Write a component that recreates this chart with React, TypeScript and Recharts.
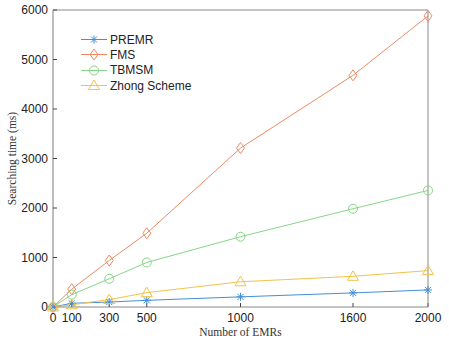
import React from 'react';
import { LineChart, Line, XAxis, YAxis, Legend } from 'recharts';

const emrs = [0, 100, 300, 500, 1000, 1600, 2000];
const premr = [0, 75, 100, 135, 205, 285, 345];
const fms = [0, 360, 940, 1490, 3210, 4680, 5880];
const tbmsm = [0, 250, 570, 900, 1420, 1985, 2355];
const zhong = [0, 45, 150, 290, 510, 620, 735];
const xTicks = [0, 100, 300, 500, 1000, 1600, 2000];
const yTicks = [0, 1000, 2000, 3000, 4000, 5000, 6000];

const seriesNames = ['PREMR', 'FMS', 'TBMSM', 'Zhong Scheme'];
const seriesKeys = ['premr', 'fms', 'tbmsm', 'zhong'];
const colors = ['#4590d6', '#ee8a63', '#86d687', '#f2c34c'];

const data = emrs.map((e, i) => ({
  emr: e,
  premr: premr[i],
  fms: fms[i],
  tbmsm: tbmsm[i],
  zhong: zhong[i],
}));

type MP = { cx?: number; cy?: number; stroke?: string };

const Star = ({ cx = 0, cy = 0, stroke }: MP) => (
  <g stroke={stroke} strokeWidth={1}>
    <line x1={cx - 4} y1={cy} x2={cx + 4} y2={cy} />
    <line x1={cx} y1={cy - 4} x2={cx} y2={cy + 4} />
    <line x1={cx - 3} y1={cy - 3} x2={cx + 3} y2={cy + 3} />
    <line x1={cx - 3} y1={cy + 3} x2={cx + 3} y2={cy - 3} />
  </g>
);
const Diamond = ({ cx = 0, cy = 0, stroke }: MP) => (
  <polygon
    points={`${cx},${cy - 5.5} ${cx + 4},${cy} ${cx},${cy + 5.5} ${cx - 4},${cy}`}
    fill="none"
    stroke={stroke}
    strokeWidth={1}
  />
);
const Circ = ({ cx = 0, cy = 0, stroke }: MP) => (
  <circle cx={cx} cy={cy} r={4.5} fill="none" stroke={stroke} strokeWidth={1} />
);
const Tri = ({ cx = 0, cy = 0, stroke }: MP) => (
  <polygon
    points={`${cx},${cy - 5.5} ${cx + 5.5},${cy + 4} ${cx - 5.5},${cy + 4}`}
    fill="none"
    stroke={stroke}
    strokeWidth={1}
  />
);
const markers = [Star, Diamond, Circ, Tri];

const renderDot = (idx: number) => (props: any) => {
  const M = markers[idx];
  return <M key={`d-${idx}-${props.index}`} cx={props.cx} cy={props.cy} stroke={colors[idx]} />;
};

const LegendContent = () => (
  <div style={{ fontFamily: '"Liberation Sans", Arial, sans-serif', fontSize: 12, color: '#222' }}>
    {seriesNames.map((n, i) => {
      const M = markers[i];
      return (
        <div key={n} style={{ display: 'flex', alignItems: 'center', height: 15.3 }}>
          <svg width={28} height={15} style={{ display: 'block' }}>
            <line x1={0} y1={7.5} x2={26} y2={7.5} stroke={colors[i]} strokeWidth={1} />
            <M cx={13} cy={7.5} stroke={colors[i]} />
          </svg>
          <span style={{ marginLeft: 1, whiteSpace: 'nowrap' }}>{n}</span>
        </div>
      );
    })}
  </div>
);

const tickStyle = { fontFamily: '"Liberation Sans", Arial, sans-serif', fontSize: 12, fill: '#222' };

export default function App() {
  return (
    <div style={{ position: 'absolute', left: 0, top: 0, background: '#fff' }}>
      <LineChart width={449} height={342} data={data} margin={{ top: 9, right: 20, bottom: 0, left: 8 }}>
        <XAxis
          dataKey="emr"
          type="number"
          domain={[0, 2000]}
          ticks={xTicks}
          interval={0}
          height={35}
          tickSize={-4}
          tickMargin={10}
          tick={tickStyle}
          stroke="#888"
          axisLine={{ stroke: '#888', strokeWidth: 1 }}
          tickLine={{ stroke: '#444' }}
          label={{
            content: ({ viewBox }: any) => (
              <text
                x={viewBox.x + viewBox.width / 2}
                y={viewBox.y + 29}
                textAnchor="middle"
                fontFamily='"Liberation Serif", "Times New Roman", serif'
                fontSize={11.5}
                fill="#333"
              >
                Number of EMRs
              </text>
            ),
          }}
        />
        <XAxis
          xAxisId="top"
          dataKey="emr"
          orientation="top"
          type="number"
          domain={[0, 2000]}
          ticks={xTicks}
          interval={0}
          height={1}
          tickSize={-4}
          tick={false}
          axisLine={{ stroke: '#888', strokeWidth: 1 }}
          tickLine={{ stroke: '#444' }}
        />
        <YAxis
          type="number"
          domain={[0, 6000]}
          ticks={yTicks}
          interval={0}
          width={45}
          tickSize={-4}
          tickMargin={9}
          tick={tickStyle}
          axisLine={{ stroke: '#bdbdbd', strokeWidth: 2 }}
          tickLine={{ stroke: '#444' }}
          label={{
            content: ({ viewBox }: any) => {
              const x = viewBox.x + 5;
              const y = viewBox.y + viewBox.height / 2;
              return (
                <text
                  x={x}
                  y={y}
                  transform={`rotate(-90 ${x} ${y})`}
                  textAnchor="middle"
                  dominantBaseline="middle"
                  fontFamily='"Liberation Serif", "Times New Roman", serif'
                  fontSize={11.5}
                  fill="#333"
                >
                  Searching time (ms)
                </text>
              );
            },
          }}
        />
        <YAxis
          yAxisId="right"
          orientation="right"
          type="number"
          domain={[0, 6000]}
          ticks={yTicks}
          interval={0}
          width={1}
          tickSize={-4}
          tick={false}
          axisLine={{ stroke: '#888', strokeWidth: 1 }}
          tickLine={{ stroke: '#444' }}
        />
        <Legend
          layout="vertical"
          align="center"
          verticalAlign="middle"
          content={<LegendContent />}
          wrapperStyle={{ position: 'absolute', left: 81, top: 32, width: 'auto', height: 'auto' }}
        />
        <Line
          xAxisId="top"
          yAxisId="right"
          dataKey="premr"
          stroke="none"
          dot={false}
          activeDot={false}
          legendType="none"
          isAnimationActive={false}
        />
        {seriesKeys.map((k, i) => (
          <Line
            key={k}
            dataKey={k}
            name={seriesNames[i]}
            stroke={colors[i]}
            strokeWidth={1}
            dot={renderDot(i)}
            activeDot={false}
            isAnimationActive={false}
          />
        ))}
      </LineChart>
    </div>
  );
}
